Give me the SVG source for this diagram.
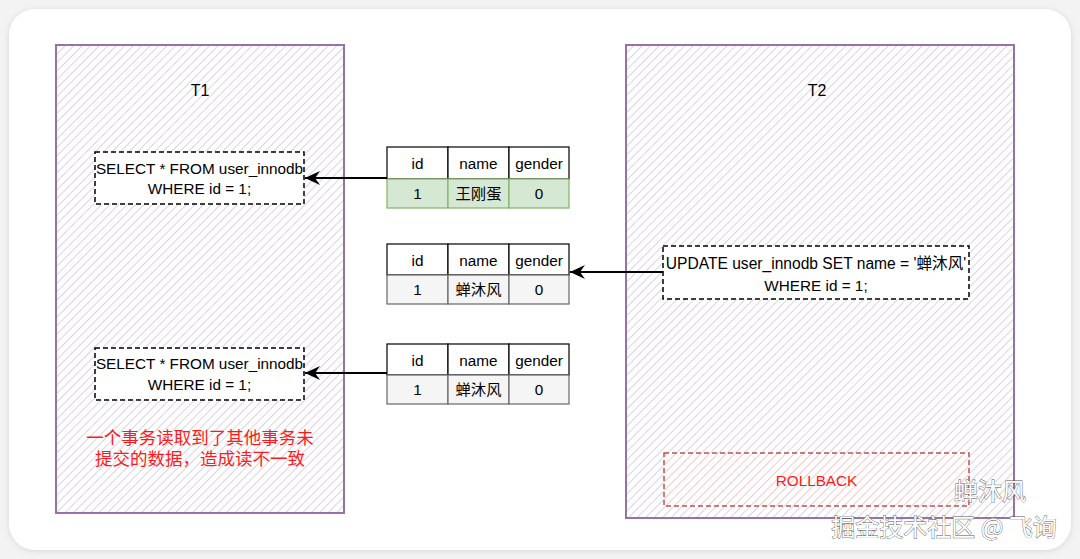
<svg xmlns="http://www.w3.org/2000/svg" width="1080" height="559" viewBox="0 0 1080 559">
<defs>
<pattern id="hatch" width="6" height="6" patternUnits="userSpaceOnUse" patternTransform="rotate(45)">
<rect width="6" height="6" fill="#ffffff"/>
<line x1="0" y1="0" x2="0" y2="6" stroke="#c6bcd3" stroke-width="1.3"/>
</pattern>
<pattern id="hatchRed" width="6" height="6" patternUnits="userSpaceOnUse" patternTransform="rotate(45)">
<rect width="6" height="6" fill="#ffffff"/>
<line x1="0" y1="0" x2="0" y2="6" stroke="#efaab0" stroke-width="1.3"/>
</pattern>
<marker id="arr" viewBox="0 0 16 14" refX="15" refY="7" markerWidth="16" markerHeight="14" markerUnits="userSpaceOnUse" orient="auto">
<path d="M0,0 L15,7 L0,14 L5,7 Z" fill="#000"/>
</marker>
<filter id="sh" x="-5%" y="-5%" width="110%" height="110%">
<feGaussianBlur stdDeviation="3"/>
</filter>
</defs>
<style>
.txn{fill:url(#hatch);stroke:#9673a6;stroke-width:2}
.sql{fill:#ffffff;stroke:#000;stroke-width:1.5;stroke-dasharray:5 3}
.t{font-family:"Liberation Sans","Noto Sans CJK SC",sans-serif;font-size:15.3px;fill:#000;text-anchor:middle}
.h{font-family:"Liberation Sans","Noto Sans CJK SC",sans-serif;font-size:16px;fill:#000;text-anchor:middle}
.cell{fill:#ffffff;stroke:#000;stroke-width:1.2}
.g{fill:#d5e8d4;stroke:#82b366;stroke-width:1.2}
.gr{fill:#f5f5f5;stroke:#666666;stroke-width:1.2}
.red{font-family:"Liberation Sans","Noto Sans CJK SC",sans-serif;font-size:17.5px;fill:#ff1a1a;text-anchor:middle}
.con{stroke:#000;stroke-width:2;fill:none}
.wm{font-family:"Noto Sans CJK SC",sans-serif;fill:#ffffff;stroke:#555;stroke-width:0.8;paint-order:stroke}
</style>
<rect width="1080" height="559" fill="#f3f3f3"/>
<rect x="9" y="10" width="1062" height="541" rx="26" fill="#d8d8d8" filter="url(#sh)"/>
<rect x="9" y="9" width="1062" height="541" rx="26" fill="#ffffff"/>

<g id="T1">
<rect class="txn" x="56" y="45" width="288" height="468"/>
<text class="h" x="200" y="96">T1</text>
</g>
<g id="T2">
<rect class="txn" x="626" y="45" width="388" height="473"/>
<text class="h" x="817" y="96">T2</text>
</g>

<g id="select1">
<rect class="sql" x="95" y="152" width="209" height="52"/>
<text class="t" x="199.5" y="174">SELECT * FROM user_innodb</text>
<text class="t" x="199.5" y="194">WHERE id = 1;</text>
</g>
<g id="select2">
<rect class="sql" x="95" y="348" width="209" height="52"/>
<text class="t" x="199.5" y="369">SELECT * FROM user_innodb</text>
<text class="t" x="199.5" y="390">WHERE id = 1;</text>
</g>
<g id="update">
<rect class="sql" x="663" y="246" width="306" height="53"/>
<text class="t" x="816" y="269" style="font-size:15.6px">UPDATE user_innodb SET name = '蝉沐风'</text>
<text class="t" x="816" y="291">WHERE id = 1;</text>
</g>
<g id="rollback">
<rect x="664" y="453" width="305" height="53" fill="url(#hatchRed)" stroke="#b85450" stroke-width="1.5" stroke-dasharray="5 3"/>
<text class="t" x="816.5" y="486" style="fill:#ff1a1a">ROLLBACK</text>
</g>

<g id="table1">
<rect class="cell" x="387" y="147" width="61" height="32"/>
<rect class="cell" x="448" y="147" width="61" height="32"/>
<rect class="cell" x="509" y="147" width="60" height="32"/>
<rect class="g" x="387" y="179" width="61" height="29"/>
<rect class="g" x="448" y="179" width="61" height="29"/>
<rect class="g" x="509" y="179" width="60" height="29"/>
<text class="t" x="417.5" y="169">id</text>
<text class="t" x="478.5" y="169">name</text>
<text class="t" x="539" y="169">gender</text>
<text class="t" x="417.5" y="199">1</text>
<text class="t" x="478.5" y="199">王刚蛋</text>
<text class="t" x="539" y="199">0</text>
</g>
<g id="table2">
<rect class="cell" x="387" y="244" width="61" height="31"/>
<rect class="cell" x="448" y="244" width="61" height="31"/>
<rect class="cell" x="509" y="244" width="60" height="31"/>
<rect class="gr" x="387" y="275" width="61" height="29"/>
<rect class="gr" x="448" y="275" width="61" height="29"/>
<rect class="gr" x="509" y="275" width="60" height="29"/>
<text class="t" x="417.5" y="266">id</text>
<text class="t" x="478.5" y="266">name</text>
<text class="t" x="539" y="266">gender</text>
<text class="t" x="417.5" y="295">1</text>
<text class="t" x="478.5" y="295">蝉沐风</text>
<text class="t" x="539" y="295">0</text>
</g>
<g id="table3">
<rect class="cell" x="387" y="344" width="61" height="31"/>
<rect class="cell" x="448" y="344" width="61" height="31"/>
<rect class="cell" x="509" y="344" width="60" height="31"/>
<rect class="gr" x="387" y="375" width="61" height="29"/>
<rect class="gr" x="448" y="375" width="61" height="29"/>
<rect class="gr" x="509" y="375" width="60" height="29"/>
<text class="t" x="417.5" y="366">id</text>
<text class="t" x="478.5" y="366">name</text>
<text class="t" x="539" y="366">gender</text>
<text class="t" x="417.5" y="395">1</text>
<text class="t" x="478.5" y="395">蝉沐风</text>
<text class="t" x="539" y="395">0</text>
</g>

<g id="note">
<text class="red" x="200" y="444">一个事务读取到了其他事务未</text>
<text class="red" x="200" y="465">提交的数据，造成读不一致</text>
</g>

<g id="connectors">
<line class="con" x1="387" y1="178" x2="305" y2="178" marker-end="url(#arr)"/>
<line class="con" x1="663" y1="272" x2="570" y2="272" marker-end="url(#arr)"/>
<line class="con" x1="387" y1="373" x2="305" y2="373" marker-end="url(#arr)"/>
</g>

<g id="watermark">
<text class="wm" x="990" y="500" font-size="24" text-anchor="middle">蝉沐风</text>
<text class="wm" x="944" y="536" font-size="24" text-anchor="middle">掘金技术社区 @ 飞询</text>
</g>
</svg>
